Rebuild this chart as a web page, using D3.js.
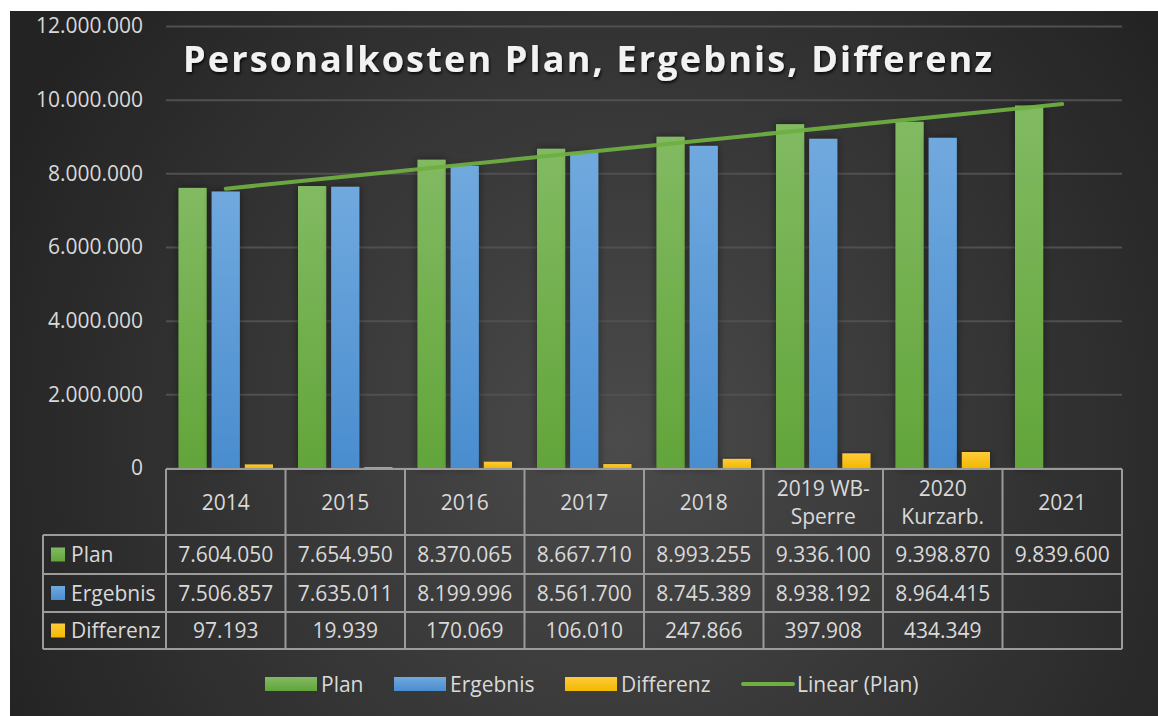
<!DOCTYPE html>
<html>
<head>
<meta charset="utf-8">
<title>Personalkosten</title>
<script src="https://cdnjs.cloudflare.com/ajax/libs/d3/7.8.5/d3.min.js"></script>
<style>
  body { margin: 0; background: #fff; }
  text { font-family: "Open Sans", "Noto Sans", sans-serif; }
</style>
</head>
<body>
<div id="chart"></div>
<script>
// data
var years = ["2014", "2015", "2016", "2017", "2018", "2019 WB-Sperre", "2020 Kurzarb.", "2021"];
var yearLines = [["2014"], ["2015"], ["2016"], ["2017"], ["2018"], ["2019 WB-", "Sperre"], ["2020", "Kurzarb."], ["2021"]];
var plan = [7604050, 7654950, 8370065, 8667710, 8993255, 9336100, 9398870, 9839600];
var ergebnis = [7506857, 7635011, 8199996, 8561700, 8745389, 8938192, 8964415, null];
var differenz = [97193, 19939, 170069, 106010, 247866, 397908, 434349, null];
var yTicks = [0, 2000000, 4000000, 6000000, 8000000, 10000000, 12000000];

var series = [
  { name: "Plan", values: plan, top: "#82ba62", bottom: "#62a53a", key: "green" },
  { name: "Ergebnis", values: ergebnis, top: "#70a9de", bottom: "#4a8dcf", key: "blue" },
  { name: "Differenz", values: differenz, top: "#ffcb3a", bottom: "#f2b900", key: "yellow" }
];

var de = d3.formatLocale({ decimal: ",", thousands: ".", grouping: [3], currency: ["", " €"] });
var fmt = de.format(",.0f");

var W = 1158, H = 716;
var plot = { left: 166, right: 1122, top: 26, bottom: 468 };
var fs = "21px";

var svg = d3.select("#chart").append("svg").attr("width", W).attr("height", H);
var defs = svg.append("defs");

var bg = defs.append("radialGradient").attr("id", "bg")
  .attr("gradientUnits", "userSpaceOnUse")
  .attr("cx", 620).attr("cy", 440).attr("r", 680);
bg.append("stop").attr("offset", "0%").attr("stop-color", "#4b4b4b");
bg.append("stop").attr("offset", "100%").attr("stop-color", "#232323");

series.forEach(function (s) {
  var g = defs.append("linearGradient").attr("id", "g-" + s.key)
    .attr("x1", 0).attr("y1", 0).attr("x2", 0).attr("y2", 1);
  g.append("stop").attr("offset", "0%").attr("stop-color", s.top);
  g.append("stop").attr("offset", "100%").attr("stop-color", s.bottom);
});

var sh = defs.append("filter").attr("id", "shadow").attr("x", "-30%").attr("y", "-10%").attr("width", "160%").attr("height", "120%");
sh.append("feDropShadow").attr("dx", 0).attr("dy", 0).attr("stdDeviation", 4).attr("flood-color", "#000").attr("flood-opacity", 0.45);

var tsh = defs.append("filter").attr("id", "tshadow").attr("x", "-5%").attr("y", "-30%").attr("width", "110%").attr("height", "160%");
tsh.append("feDropShadow").attr("dx", 1).attr("dy", 2).attr("stdDeviation", 1.5).attr("flood-color", "#000").attr("flood-opacity", 0.8);

svg.append("rect").attr("x", 10).attr("y", 11).attr("width", W - 10).attr("height", H - 11).attr("fill", "url(#bg)");

// scales
var x = d3.scaleBand().domain(years).range([plot.left, plot.right]).padding(0);
var xs = d3.scaleBand().domain(series.map(function (s) { return s.name; }))
  .range([12.5, x.bandwidth() - 12.5]).paddingInner(0.15).paddingOuter(0);
var y = d3.scaleLinear().domain([0, 12000000]).range([plot.bottom, plot.top]);

// grid + y labels
var yAxis = d3.axisLeft(y).tickValues(yTicks).tickFormat(fmt).tickSize(-(plot.right - plot.left)).tickPadding(23);
var ya = svg.append("g").attr("transform", "translate(" + plot.left + ",0)").call(yAxis);
ya.select(".domain").remove();
ya.selectAll(".tick line").attr("stroke", "#505050").attr("stroke-width", 2);
ya.selectAll(".tick text").attr("fill", "#d9d9d9").style("font-size", fs).style("font-family", "'Open Sans', sans-serif");

// bars
series.forEach(function (s) {
  svg.append("g").selectAll("rect")
    .data(s.values.map(function (v, i) { return { v: v, cat: years[i] }; }).filter(function (d) { return d.v != null; }))
    .enter().append("rect")
    .attr("x", function (d) { return x(d.cat) + xs(s.name); })
    .attr("y", function (d) { return y(d.v); })
    .attr("width", xs.bandwidth())
    .attr("height", function (d) { return y(0) - y(d.v); })
    .attr("fill", "url(#g-" + s.key + ")")
    .attr("filter", "url(#shadow)");
});

// linear trend of plan
var n = plan.length;
var mx = d3.mean(d3.range(1, n + 1));
var my = d3.mean(plan);
var slope = d3.sum(plan, function (v, i) { return (i + 1 - mx) * (v - my); }) / d3.sum(d3.range(1, n + 1), function (i) { return (i - mx) * (i - mx); });
var trend = [1, n].map(function (i) { return { cat: years[i - 1], v: my + slope * (i - mx) }; });
svg.append("path")
  .datum(trend)
  .attr("d", d3.line().x(function (d) { return x(d.cat) + x.bandwidth() / 2; }).y(function (d) { return y(d.v); }))
  .attr("stroke", "#6fae42").attr("stroke-width", 4).attr("stroke-linecap", "round").attr("fill", "none").attr("opacity", 0.95);

// title
svg.append("text")
  .attr("x", 183).attr("y", 72)
  .attr("textLength", 809).attr("lengthAdjust", "spacing")
  .attr("fill", "#f2f2f2").attr("filter", "url(#tshadow)")
  .style("font-size", "36px").style("font-weight", "bold")
  .text("Personalkosten Plan, Ergebnis, Differenz");

// data table
var tbl = { left: 43, top: 469, head: 535, rows: [535, 574, 612, 649] };
var tg = svg.append("g");
var lineCol = "#9b9b9b";
tg.append("line").attr("x1", plot.left).attr("x2", plot.right).attr("y1", tbl.top).attr("y2", tbl.top);
tbl.rows.forEach(function (ry) {
  tg.append("line").attr("x1", tbl.left).attr("x2", plot.right).attr("y1", ry).attr("y2", ry);
});
years.forEach(function (c) {
  tg.append("line").attr("x1", x(c)).attr("x2", x(c)).attr("y1", tbl.top).attr("y2", tbl.rows[3]);
});
tg.append("line").attr("x1", plot.right).attr("x2", plot.right).attr("y1", tbl.top).attr("y2", tbl.rows[3]);
tg.append("line").attr("x1", tbl.left).attr("x2", tbl.left).attr("y1", tbl.rows[0]).attr("y2", tbl.rows[3]);
tg.selectAll("line").attr("stroke", lineCol).attr("stroke-width", 2);

// header labels
yearLines.forEach(function (lines, i) {
  var cx = x(years[i]) + x.bandwidth() / 2;
  var cy = (tbl.top + tbl.head) / 2;
  var t = tg.append("text").attr("x", cx).attr("text-anchor", "middle")
    .attr("fill", "#d9d9d9").style("font-size", fs);
  lines.forEach(function (l, k) {
    t.append("tspan").attr("x", cx).attr("y", cy + (k - (lines.length - 1) / 2) * 28).attr("dy", "0.36em").text(l);
  });
});

// rows
series.forEach(function (s, r) {
  var cy = (tbl.rows[r] + tbl.rows[r + 1]) / 2;
  tg.append("rect").attr("x", 51).attr("y", cy - 7).attr("width", 14).attr("height", 14).attr("fill", "url(#g-" + s.key + ")");
  tg.append("text").attr("x", 71).attr("y", cy).attr("dy", "0.36em")
    .attr("fill", "#d9d9d9").style("font-size", fs).text(s.name);
  s.values.forEach(function (v, i) {
    if (v == null) return;
    tg.append("text").attr("x", x(years[i]) + x.bandwidth() / 2).attr("y", cy).attr("dy", "0.36em")
      .attr("text-anchor", "middle").attr("fill", "#d9d9d9").style("font-size", fs).text(fmt(v));
  });
});

// legend
var legendItems = [
  { name: "Plan", type: "rect", key: "green", x: 265 },
  { name: "Ergebnis", type: "rect", key: "blue", x: 394 },
  { name: "Differenz", type: "rect", key: "yellow", x: 565 },
  { name: "Linear (Plan)", type: "line", key: "green", x: 741 }
];
var ly = 684;
var lg = svg.append("g");
legendItems.forEach(function (it) {
  if (it.type === "rect") {
    lg.append("rect").attr("x", it.x).attr("y", ly - 7).attr("width", 52).attr("height", 14).attr("fill", "url(#g-" + it.key + ")");
  } else {
    lg.append("line").attr("x1", it.x + 2).attr("x2", it.x + 52).attr("y1", ly).attr("y2", ly)
      .attr("stroke", "#6fae42").attr("stroke-width", 4).attr("stroke-linecap", "round");
  }
  lg.append("text").attr("x", it.x + 56).attr("y", ly).attr("dy", "0.36em")
    .attr("fill", "#d9d9d9").style("font-size", fs).text(it.name);
});
</script>
</body>
</html>
